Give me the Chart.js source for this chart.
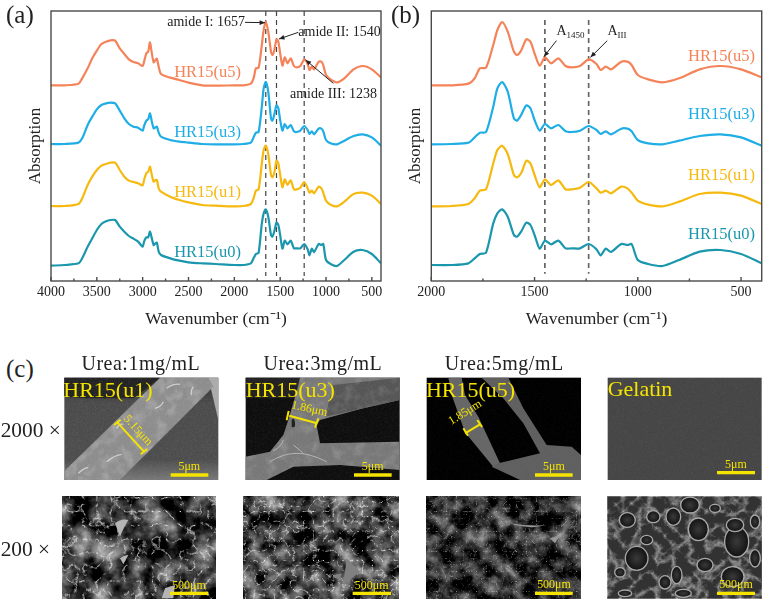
<!DOCTYPE html>
<html>
<head>
<meta charset="utf-8">
<script src="https://cdn.jsdelivr.net/npm/chart.js@4"></script>
<style>
  body { margin: 0; background: #fff; font-family: "Liberation Serif", serif; color: #222; }
  #page { position: relative; width: 764px; height: 600px; overflow: hidden; }
  canvas { position: absolute; top: 0; }
  #chartA { left: 0; }
  #chartB { left: 385px; }
  #photos { position: absolute; left: 0; top: 0; }
  .tag { position: absolute; font-size: 25px; line-height: 25px; }
  #photos text { font-family: "Liberation Serif", serif; }
  .yl { fill: #f5e400; }
  .bar { stroke: #f5e400; stroke-width: 10; fill: none; }
</style>
</head>
<body>
<div id="page">
  <canvas id="chartA" width="390" height="340"></canvas>
  <canvas id="chartB" width="379" height="340"></canvas>
  <div class="tag" style="left:6px;top:2px">(a)</div>
  <div class="tag" style="left:391px;top:2px">(b)</div>
  <div class="tag" style="left:6px;top:356px">(c)</div>
  <svg id="photos" width="764" height="600" xmlns="http://www.w3.org/2000/svg">
    <defs>
      <filter id="grain" x="0" y="0" width="100%" height="100%" color-interpolation-filters="sRGB">
        <feTurbulence type="fractalNoise" baseFrequency="0.5" numOctaves="2" seed="4"/>
        <feColorMatrix values="0 0 0 0 1  0 0 0 0 1  0 0 0 0 1  0.9 0 0 0 -0.35"/>
      </filter>
      <filter id="mottle" x="0" y="0" width="100%" height="100%" color-interpolation-filters="sRGB">
        <feTurbulence type="fractalNoise" baseFrequency="0.03" numOctaves="4" seed="9"/>
        <feColorMatrix values="0 0 0 0 1  0 0 0 0 1  0 0 0 0 1  2.4 0 0 0 -1.05"/>
      </filter>
      <filter id="net1" x="0" y="0" width="100%" height="100%" color-interpolation-filters="sRGB">
        <feTurbulence type="fractalNoise" baseFrequency="0.014" numOctaves="5" seed="5" result="n"/>
        <feColorMatrix in="n" values="1.5 0 0 0 -0.52  1.5 0 0 0 -0.52  1.5 0 0 0 -0.52  0 0 0 0 1" result="c"/>
        <feTurbulence type="turbulence" baseFrequency="0.024" numOctaves="5" seed="3" result="t"/>
        <feColorMatrix in="t" values="-3.8 0 0 0 0.82  -3.8 0 0 0 0.82  -3.8 0 0 0 0.82  0 0 0 0 1" result="v"/>
        <feBlend in="c" in2="v" mode="screen"/>
      </filter>
      <filter id="net2" x="0" y="0" width="100%" height="100%" color-interpolation-filters="sRGB">
        <feTurbulence type="fractalNoise" baseFrequency="0.018" numOctaves="5" seed="14" result="n"/>
        <feColorMatrix in="n" values="1.5 0 0 0 -0.5  1.5 0 0 0 -0.5  1.5 0 0 0 -0.5  0 0 0 0 1" result="c"/>
        <feTurbulence type="turbulence" baseFrequency="0.034" numOctaves="5" seed="11" result="t"/>
        <feColorMatrix in="t" values="-3.8 0 0 0 0.82  -3.8 0 0 0 0.82  -3.8 0 0 0 0.82  0 0 0 0 1" result="v"/>
        <feBlend in="c" in2="v" mode="screen"/>
      </filter>
      <filter id="net3" x="0" y="0" width="100%" height="100%" color-interpolation-filters="sRGB">
        <feTurbulence type="fractalNoise" baseFrequency="0.02" numOctaves="5" seed="21" result="n"/>
        <feColorMatrix in="n" values="1.2 0 0 0 -0.42  1.2 0 0 0 -0.42  1.2 0 0 0 -0.42  0 0 0 0 1" result="c"/>
        <feTurbulence type="turbulence" baseFrequency="0.05" numOctaves="4" seed="23" result="t"/>
        <feColorMatrix in="t" values="-2.4 0 0 0 0.45  -2.4 0 0 0 0.45  -2.4 0 0 0 0.45  0 0 0 0 1" result="v"/>
        <feBlend in="c" in2="v" mode="screen"/>
      </filter>
      <filter id="net4" x="0" y="0" width="100%" height="100%" color-interpolation-filters="sRGB">
        <feTurbulence type="turbulence" baseFrequency="0.02" numOctaves="4" seed="7"/>
        <feColorMatrix values="-2.4 0 0 0 0.85  -2.4 0 0 0 0.85  -2.4 0 0 0 0.85  0 0 0 0 1"/>
      </filter>
      <radialGradient id="pore">
        <stop offset="0" stop-color="#3a3a3a"/><stop offset="0.75" stop-color="#1c1c1c"/><stop offset="1" stop-color="#111"/>
      </radialGradient>
      <linearGradient id="lowGrey" x1="0" y1="0" x2="0" y2="1">
        <stop offset="0" stop-color="#2c2c2c"/><stop offset="0.25" stop-color="#4a4a4a"/>
        <stop offset="0.8" stop-color="#4c4c4c"/><stop offset="1" stop-color="#777"/>
      </linearGradient>
      <clipPath id="fiber1"><path d="M193 378L480 98H625L640 125L360 405H193Z"/></clipPath>
      <clipPath id="fiber2"><path d="M900 98H1199V165L1090 190L960 225L950 240L960 295L1199 290V375L1020 360L880 365L800 405H737V335L810 320L850 270L865 225L890 140Z"/></clipPath>
    </defs>

    <!-- left two columns, units are 1/3 px -->
    <g transform="translate(0,345) scale(0.33333)">
      <text x="422" y="76" font-size="60" text-anchor="middle" textLength="355" fill="#222">Urea:1mg/mL</text>
      <text x="968" y="76" font-size="60" text-anchor="middle" textLength="355" fill="#222">Urea:3mg/mL</text>
      <text x="2" y="277" font-size="64" fill="#222">2000 ×</text>
      <text x="2" y="634" font-size="64" fill="#222">200 ×</text>

      <!-- HR15(u1) 2000x -->
      <rect x="193" y="98" width="462" height="307" fill="url(#lowGrey)"/>
      <path d="M193 98H480L400 160H260L193 155Z" fill="#222"/>
      <path d="M625 98H655V225Z" fill="#aaa"/>
      <path d="M193 378L480 98H625L640 125L360 405H193Z" fill="#8c8c8c"/>
      <rect x="193" y="98" width="462" height="307" filter="url(#mottle)" opacity="0.22" clip-path="url(#fiber1)"/>
      <path d="M500 130q20 -15 40 -12M580 125q-10 15 -5 25M465 190q20 -6 25 -20M350 250q8 -15 20 -12M320 350q25 -20 45 -22M235 385q15 -15 30 -18" stroke="#ddd" stroke-width="4" fill="none" opacity="0.8"/>
      <rect x="193" y="98" width="462" height="307" filter="url(#grain)" opacity="0.2"/>
      <text x="190" y="155" font-size="66" class="yl">HR15(u1)</text>
      <path d="M352 232L432 320M342 240L362 224M422 328L442 312" stroke="#f5e400" stroke-width="6" fill="none"/>
      <text x="0" y="0" font-size="36" class="yl" transform="translate(370,222) rotate(48)">5.15μm</text>
      <path d="M512 390H625" class="bar"/>
      <text x="568" y="375" font-size="36" text-anchor="middle" class="yl">5μm</text>

      <!-- HR15(u3) 2000x -->
      <rect x="737" y="98" width="462" height="307" fill="#0d0d0d"/>
      <path d="M737 98H900V160L737 160Z" fill="#202020"/>
      <path d="M900 98H1199V165L1090 190L960 225L950 240L960 295L1199 290V375L1020 360L880 365L800 405H737V335L810 320L850 270L865 225L890 140Z" fill="#777"/>
      <path d="M1000 120L1199 98V165L1090 190L975 215Z" fill="#555"/>
      <rect x="737" y="98" width="462" height="307" filter="url(#mottle)" opacity="0.15" clip-path="url(#fiber2)"/>
      <path d="M810 350q40 -25 80 -25t90 25M880 300q20 15 30 25M850 285q-5 20 -30 32" stroke="#ccc" stroke-width="3" fill="none" opacity="0.7"/>
      <rect x="737" y="98" width="462" height="307" filter="url(#grain)" opacity="0.15"/>
      <path d="M875 225q8 -10 10 8t-10 12z" fill="#222"/>
      <text x="737" y="155" font-size="66" class="yl">HR15(u3)</text>
      <path d="M868 212L948 234M866 198L860 226M955 220L945 248" stroke="#f5e400" stroke-width="6" fill="none"/>
      <text x="0" y="0" font-size="36" class="yl" transform="translate(872,190) rotate(12)">1.86μm</text>
      <path d="M1062 390H1175" class="bar"/>
      <text x="1118" y="375" font-size="36" text-anchor="middle" class="yl">5μm</text>

      <!-- 200x row -->
      <rect x="186" y="455" width="462" height="305" filter="url(#net1)"/>
      <path d="M345 535q20 -15 40 -10q-10 15 -25 50ZM360 640q15 -10 25 -10l-15 28ZM495 730l30 -10l-5 40h-35Z" fill="#b5b5b5"/>
      <path d="M510 745H625" class="bar"/>
      <text x="567" y="732" font-size="36" text-anchor="middle" class="yl">500μm</text>

      <rect x="732" y="455" width="463" height="305" filter="url(#net2)"/>
      <path d="M1040 640l40 40l-50 40ZM1000 690l25 -5l-5 25Z" fill="#808080"/>
      <path d="M1058 745H1173" class="bar"/>
      <text x="1115" y="732" font-size="36" text-anchor="middle" class="yl">500μm</text>
    </g>

    <!-- right two columns -->
    <g transform="translate(390,345) scale(0.33333)">
      <text x="342" y="76" font-size="60" text-anchor="middle" textLength="355" fill="#222">Urea:5mg/mL</text>

      <!-- HR15(u5) 2000x -->
      <rect x="110" y="98" width="463" height="307" fill="#000"/>
      <path d="M175 98H215L225 150L265 215L330 355L312 368L225 262L185 150Z" fill="#666"/>
      <path d="M275 98H355L400 190L470 300L545 305L573 330V405H390L305 365L325 355L450 325L400 235L340 160Z" fill="#5f5f5f"/>
      <rect x="110" y="98" width="463" height="307" filter="url(#grain)" opacity="0.08"/>
      <text x="108" y="155" font-size="66" class="yl">HR15(u5)</text>
      <path d="M225 265L270 238M220 250L234 272M262 225L276 246" stroke="#f5e400" stroke-width="6" fill="none"/>
      <text x="0" y="0" font-size="36" class="yl" transform="translate(184,240) rotate(-32)">1.85μm</text>
      <path d="M435 390H548" class="bar"/>
      <text x="492" y="375" font-size="36" text-anchor="middle" class="yl">5μm</text>

      <!-- Gelatin 2000x -->
      <rect x="653" y="98" width="462" height="307" fill="#454545"/>
      <rect x="653" y="98" width="462" height="307" filter="url(#grain)" opacity="0.12"/>
      <text x="653" y="152" font-size="66" class="yl">Gelatin</text>
      <path d="M981 383H1095" class="bar"/>
      <text x="1038" y="368" font-size="36" text-anchor="middle" class="yl">5μm</text>

      <!-- 200x row -->
      <rect x="108" y="455" width="463" height="305" filter="url(#net3)"/>
      <path d="M360 535q60 10 110 5q-50 15 -110 -5ZM480 580l30 -10l-15 25Z" fill="#999"/>
      <path d="M435 745H548" class="bar"/>
      <text x="492" y="728" font-size="36" text-anchor="middle" class="yl">500μm</text>

      <rect x="653" y="455" width="462" height="305" fill="#666"/>
      <rect x="653" y="455" width="462" height="305" filter="url(#net4)" opacity="0.5"/>
      <g fill="url(#pore)" stroke="#a8a8a8" stroke-width="4">
        <ellipse cx="712" cy="525" rx="24" ry="22"/><ellipse cx="790" cy="515" rx="20" ry="18"/>
        <ellipse cx="850" cy="515" rx="22" ry="26"/><ellipse cx="925" cy="553" rx="30" ry="34"/>
        <ellipse cx="900" cy="480" rx="28" ry="24"/><ellipse cx="1040" cy="590" rx="36" ry="46"/>
        <ellipse cx="1035" cy="540" rx="26" ry="20"/><ellipse cx="740" cy="640" rx="34" ry="36"/>
        <ellipse cx="825" cy="712" rx="18" ry="20"/><ellipse cx="690" cy="682" rx="16" ry="14"/>
        <ellipse cx="1028" cy="695" rx="34" ry="30"/><ellipse cx="945" cy="660" rx="24" ry="20"/>
        <ellipse cx="860" cy="690" rx="16" ry="26"/><ellipse cx="1095" cy="530" rx="14" ry="20"/>
        <ellipse cx="975" cy="490" rx="16" ry="12"/><ellipse cx="880" cy="745" rx="24" ry="12"/>
        <ellipse cx="705" cy="745" rx="20" ry="10"/><ellipse cx="770" cy="585" rx="18" ry="14"/>
        <ellipse cx="1095" cy="640" rx="16" ry="26"/>
      </g>
      <path d="M981 745H1095" class="bar"/>
      <text x="1038" y="730" font-size="36" text-anchor="middle" class="yl">500μm</text>
    </g>
  </svg>
</div>

<script>
// wavenumber positions the spectra were read at (cm-1)
const wavenumbers = [4000,3850,3700,3660,3600,3550,3500,3450,3400,3350,3300,3250,3200,3150,3100,3050,3000,2985,2960,2940,2920,2900,2880,2860,2845,2825,2800,2700,2600,2500,2350,2200,
  2000,1900,1820,1790,1765,1735,1700,1680,1657,1630,1600,1585,1565,1540,1520,1500,1475,1450,1420,1385,1350,1320,1280,1238,1200,1180,1155,1130,1080,1050,1030,1000,950,880,800,700,600,500,400];

// absorption, stacked with offsets, arbitrary units
const u5Values = [587,587,592,608,638,668,691,711,718,722,721,698,681,665,657,653,645,658,683,688,716,683,656,663,667,643,621,610,603,595,587,586,
  587,587,592,608,638,640,708,753,777,748,688,678,691,725,718,683,646,671,653,668,645,641,645,665,651,633,643,635,658,658,648,618,605,596,608,635,645,635,611];
const u3Values = [411,411,415,428,468,493,515,528,533,535,533,511,488,471,463,460,451,465,481,485,503,478,458,461,463,445,433,423,418,415,411,410,
  410,411,415,431,445,447,523,578,597,568,488,481,498,527,518,483,451,471,458,468,449,447,451,465,453,441,449,440,457,457,449,423,413,410,421,435,440,431,406];
const u1Values = [225,225,231,248,288,313,333,346,351,355,355,333,313,301,297,293,287,303,323,328,343,318,298,303,303,278,268,253,243,236,228,226,
  224,225,231,248,271,275,353,393,406,381,318,311,323,361,353,318,281,305,288,302,275,275,280,297,278,265,271,263,283,278,265,241,229,224,238,261,265,256,231];
const u0Values = [46,48,53,68,103,128,153,171,179,183,183,163,148,135,127,118,103,118,131,131,148,128,108,113,115,88,78,68,61,56,53,51,
  48,48,53,68,81,85,173,203,215,193,138,133,148,175,168,138,97,121,110,121,98,98,98,111,95,77,97,87,111,108,111,63,51,45,63,88,93,81,53];

const seriesNames = ['HR15(u5)','HR15(u3)','HR15(u1)','HR15(u0)'];
const seriesColors = ['#f58359','#1fade6','#f6b90f','#1a97ad'];
const seriesValues = [u5Values,u3Values,u1Values,u0Values];

const ticksA = [4000,3500,3000,2500,2000,1500,1000,500];
const minorA = [3750,3250,2750,2250,1750,1250,750];
const ticksB = [2000,1500,1000,500];
const minorB = [1750,1250,750];

const peaksA = [1657,1540,1238];
const peaksB = [1450,1238];

// name tags: wavenumber, height
const tagXA = [2291,2291,2291,2291];
const tagXB = [595,595,595,595];
const tagYA = [626,445,265,86];
const tagYB = [673,498,316,138];

const notesA = [
  {text:'amide I: 1657', wn:1884, y:775, align:'right'},
  {text:'amide II: 1540', wn:1302, y:746, align:'left'},
  {text:'amide III: 1238', wn:1393, y:561, align:'left'}
];
const arrowsA = [[1884,776,1664,775],[1302,746,1513,726],[920,593,1222,663]];
const notesB = [
  {text:'A', sub:'1450', wn:1394, y:748, align:'left'},
  {text:'A', sub:'III', wn:1147, y:748, align:'left'}
];
const arrowsB = [[1394,721,1455,673],[1148,721,1229,671]];

const serif = 'Liberation Serif';

const panelMarks = {
  id: 'panelMarks',
  afterDraw(chart, args, opts) {
    const ctx = chart.ctx, x = chart.scales.x, y = chart.scales.y, a = chart.chartArea;
    ctx.save();
    // frame and inward ticks
    ctx.strokeStyle = '#4a4a4a';
    ctx.lineWidth = 1.4;
    ctx.strokeRect(a.left, a.top, a.width, a.height);
    opts.major.forEach(v => {
      const px = x.getPixelForValue(v);
      ctx.beginPath(); ctx.moveTo(px, a.bottom); ctx.lineTo(px, a.bottom - 4); ctx.stroke();
    });
    opts.minor.forEach(v => {
      const px = x.getPixelForValue(v);
      ctx.beginPath(); ctx.moveTo(px, a.bottom); ctx.lineTo(px, a.bottom - 2.5); ctx.stroke();
    });
    // series names
    ctx.textAlign = 'center';
    ctx.textBaseline = 'middle';
    ctx.font = '16.5px "' + serif + '"';
    seriesNames.forEach((name, i) => {
      ctx.fillStyle = seriesColors[i];
      ctx.fillText(name, x.getPixelForValue(opts.tagX[i]), y.getPixelForValue(opts.tagY[i]));
    });
    // peak notes
    ctx.fillStyle = '#222';
    opts.notes.forEach(n => {
      const px = x.getPixelForValue(n.wn), py = y.getPixelForValue(n.y);
      ctx.textAlign = n.align;
      ctx.font = '14px "' + serif + '"';
      ctx.fillText(n.text, px, py);
      if (n.sub) {
        const w = ctx.measureText(n.text).width;
        ctx.textAlign = 'left';
        ctx.font = '9px "' + serif + '"';
        ctx.fillText(n.sub, px + w, py + 4);
      }
    });
    // arrows
    ctx.strokeStyle = '#222';
    ctx.fillStyle = '#222';
    ctx.lineWidth = 1;
    opts.arrows.forEach(r => {
      const x0 = x.getPixelForValue(r[0]), y0 = y.getPixelForValue(r[1]);
      const x1 = x.getPixelForValue(r[2]), y1 = y.getPixelForValue(r[3]);
      const ang = Math.atan2(y1 - y0, x1 - x0);
      ctx.beginPath(); ctx.moveTo(x0, y0); ctx.lineTo(x1, y1); ctx.stroke();
      ctx.beginPath();
      ctx.moveTo(x1, y1);
      ctx.lineTo(x1 - 6 * Math.cos(ang - 0.4), y1 - 6 * Math.sin(ang - 0.4));
      ctx.lineTo(x1 - 6 * Math.cos(ang + 0.4), y1 - 6 * Math.sin(ang + 0.4));
      ctx.closePath(); ctx.fill();
    });
    ctx.restore();
  }
};

function buildPanel(id, cfg) {
  const spectra = seriesNames.map((name, i) => ({
    label: name,
    data: wavenumbers.map((wn, k) => ({x: wn, y: seriesValues[i][k]})),
    borderColor: seriesColors[i],
    borderWidth: 2.2,
    pointRadius: 0,
    tension: 0.25
  }));
  const dashed = cfg.peaks.map(wn => ({
    label: 'peak ' + wn,
    data: [{x: wn, y: cfg.dashTop}, {x: wn, y: cfg.dashBottom}],
    borderColor: cfg.dashColor,
    borderWidth: cfg.dashWidth,
    borderDash: [5, 4],
    pointRadius: 0
  }));
  return new Chart(document.getElementById(id), {
    type: 'line',
    data: {datasets: spectra.concat(dashed)},
    plugins: [panelMarks],
    options: {
      responsive: false,
      animation: false,
      layout: {padding: {top: 11, right: cfg.right, left: 0, bottom: 0}},
      plugins: {
        legend: {display: false},
        tooltip: {enabled: false},
        panelMarks: {major: cfg.major, minor: cfg.minor, tagX: cfg.tagX, tagY: cfg.tagY, notes: cfg.notes, arrows: cfg.arrows}
      },
      scales: {
        x: {
          type: 'linear',
          reverse: true,
          min: 400,
          max: cfg.max,
          grid: {display: false, drawTicks: false},
          border: {display: false},
          afterBuildTicks(s) { s.ticks = cfg.major.map(v => ({value: v})); },
          afterFit(s) { s.height = 59; },
          ticks: {
            autoSkip: false, maxRotation: 0, padding: 3,
            color: '#222',
            font: {family: serif, size: 14},
            callback: v => String(v)
          },
          title: {
            display: true,
            text: 'Wavenumber (cm⁻¹)',
            color: '#222',
            font: {family: serif, size: 17.5},
            padding: {top: 0, bottom: 10}
          }
        },
        y: {
          min: 0,
          max: 810,
          grid: {display: false, drawTicks: false},
          border: {display: false},
          ticks: {display: false},
          afterFit(s) { s.width = cfg.left; },
          title: {
            display: true,
            text: 'Absorption',
            color: '#222',
            font: {family: serif, size: 17},
            padding: {top: cfg.titleInset, bottom: 0}
          }
        }
      }
    }
  });
}

buildPanel('chartA', {
  max: 4000, left: 51, right: 9, titleInset: 25,
  major: ticksA, minor: minorA, peaks: peaksA,
  dashTop: 810, dashBottom: 15, dashColor: '#444', dashWidth: 1.2,
  tagX: tagXA, tagY: tagYA, notes: notesA, arrows: arrowsA
});
buildPanel('chartB', {
  max: 2000, left: 46.3, right: 2.3, titleInset: 20,
  major: ticksB, minor: minorB, peaks: peaksB,
  dashTop: 783, dashBottom: 22, dashColor: '#666', dashWidth: 1.7,
  tagX: tagXB, tagY: tagYB, notes: notesB, arrows: arrowsB
});
</script>
</body>
</html>
